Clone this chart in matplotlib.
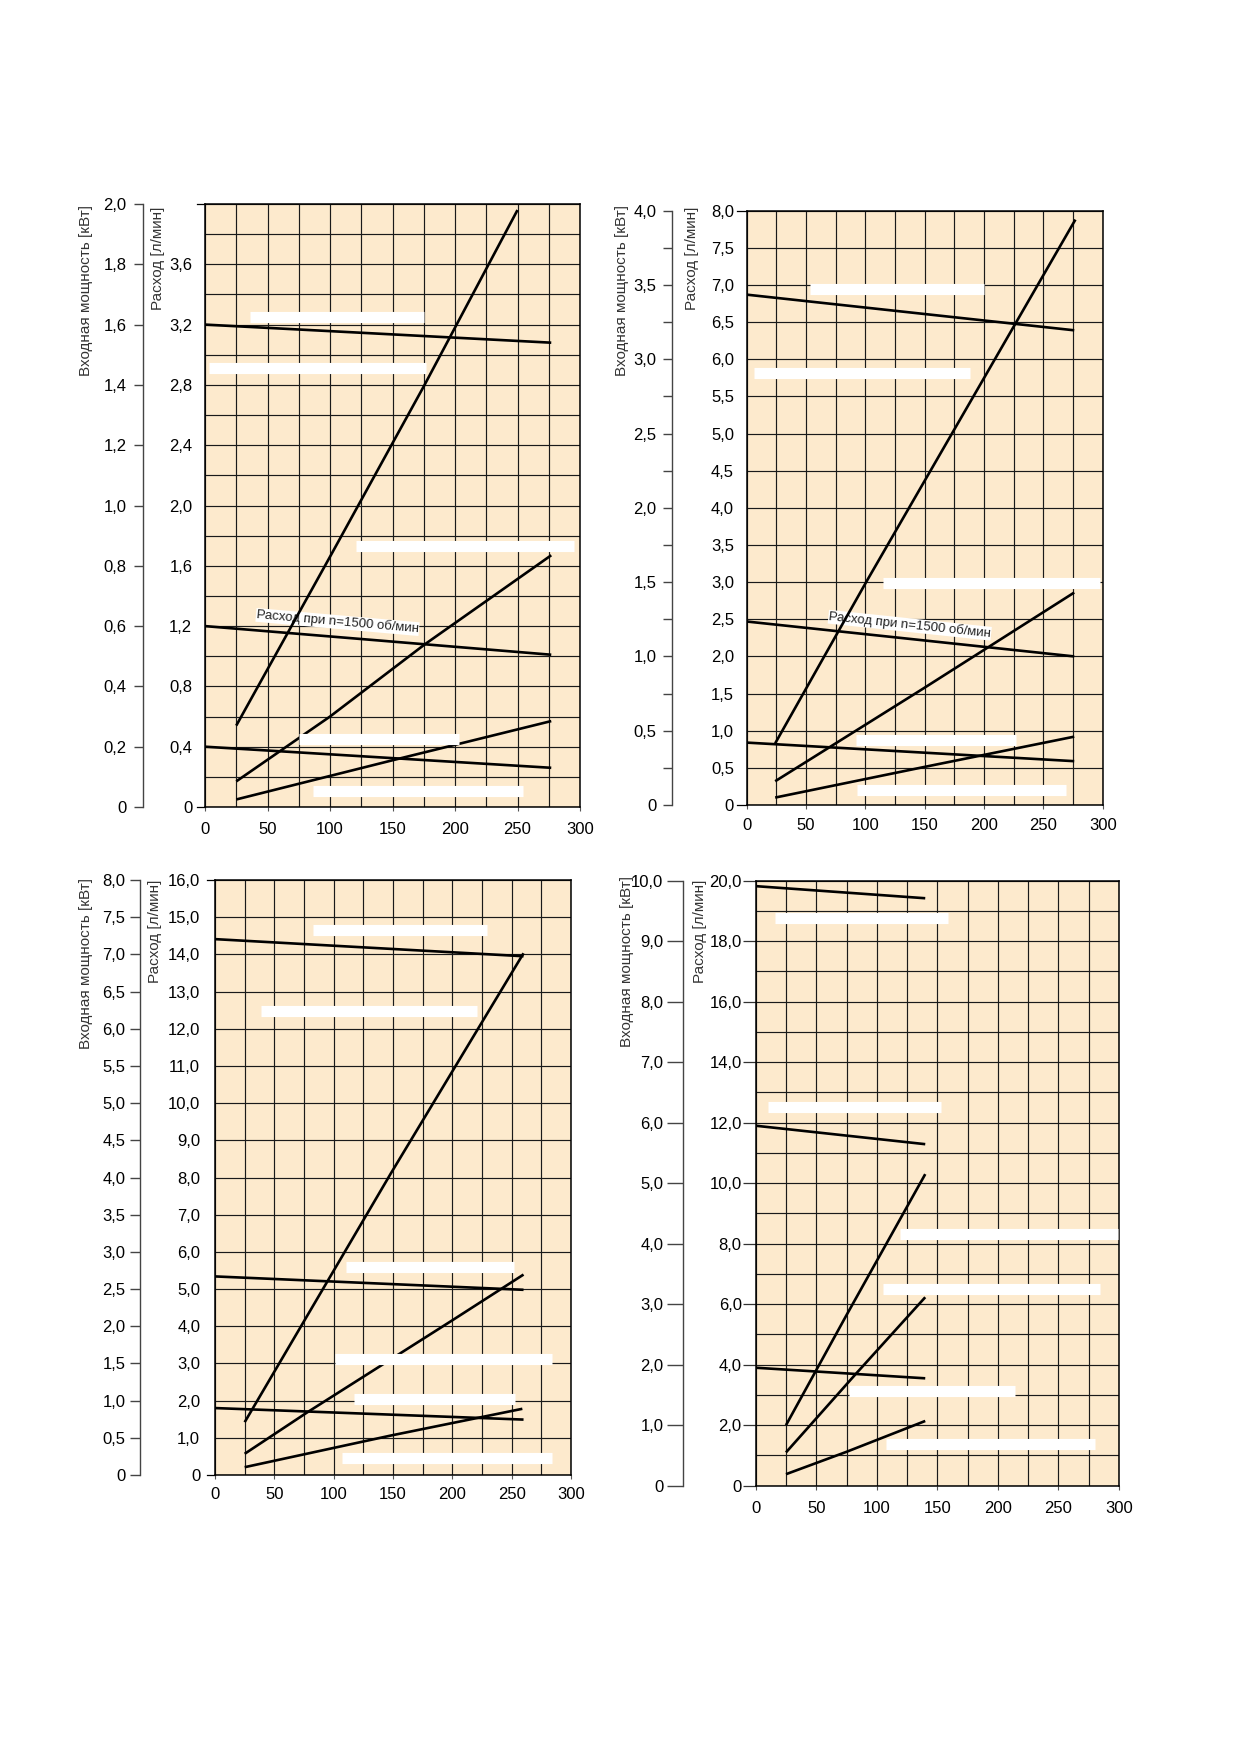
import matplotlib
matplotlib.use('Agg')
import matplotlib.pyplot as plt
import numpy as np

plt.rcParams['font.family'] = ['Liberation Sans', 'DejaVu Sans']

W, H = 1239, 1752
DPI = 100
PT = 72.0 / DPI          # points per pixel

BG = '#FDEACD'
POWER_LABEL = 'Входная мощность [кВт]'
FLOW_LABEL = 'Расход [л/мин]'
NOTE = 'Расход при n=1500 об/мин'

# pressure axis, common to all four charts
pressure_ticks = [0, 50, 100, 150, 200, 250, 300]

# ---- chart 1 (top left): flow l/min, power kW ----
p1_flow_x = [0, 277]
p1_flow_hi = [3.20, 3.08]
p1_flow_mid = [1.20, 1.01]
p1_flow_lo = [0.40, 0.26]
p1_power_hi_x = [25, 100, 175, 250]
p1_power_hi = [0.27, 0.83, 1.395, 1.98]
p1_power_mid_x = [25, 100, 176, 277]
p1_power_mid = [0.085, 0.30, 0.54, 0.835]
p1_power_lo_x = [25, 150, 277]
p1_power_lo = [0.025, 0.155, 0.285]

# ---- chart 2 (top right) ----
p2_flow_x = [0, 276]
p2_flow_hi = [6.87, 6.39]
p2_flow_mid = [2.47, 2.00]
p2_flow_lo = [0.84, 0.59]
p2_power_hi_x = [24, 101, 199, 277]
p2_power_hi = [0.415, 1.505, 2.86, 3.94]
p2_power_mid_x = [24, 149, 276]
p2_power_mid = [0.16, 0.785, 1.43]
p2_power_lo_x = [24, 149, 276]
p2_power_lo = [0.05, 0.255, 0.46]

# ---- chart 3 (bottom left) ----
p3_flow_x = [0, 260]
p3_flow_hi = [14.41, 13.95]
p3_flow_mid = [5.34, 4.98]
p3_flow_lo = [1.80, 1.49]
p3_power_hi_x = [25, 148, 260]
p3_power_hi = [0.71, 4.05, 7.015]
p3_power_mid_x = [25, 78, 200, 260]
p3_power_mid = [0.285, 0.845, 2.08, 2.695]
p3_power_lo_x = [25, 148, 259]
p3_power_lo = [0.105, 0.53, 0.89]

# ---- chart 4 (bottom right) ----
p4_flow_x = [0, 140]
p4_flow_hi = [19.82, 19.42]
p4_flow_mid = [11.90, 11.29]
p4_flow_lo = [3.90, 3.55]
p4_power_hi_x = [25, 75, 140]
p4_power_hi = [1.0, 2.82, 5.15]
p4_power_mid_x = [25, 83, 140]
p4_power_mid = [0.55, 1.855, 3.115]
p4_power_lo_x = [25, 75, 140]
p4_power_lo = [0.19, 0.56, 1.07]

# white blanked-out label strips: (pressure from, pressure to, flow)
p1_masks = [(36, 175, 3.25), (3, 177, 2.915), (121, 295, 1.73), (75, 203, 0.45), (86, 254, 0.104)]
p2_masks = [(53, 200, 6.95), (6, 188, 5.815), (115, 298, 2.99), (92, 227, 0.875), (93, 269, 0.205)]
p3_masks = [(83, 229, 14.65), (39, 221, 12.49), (110, 252, 5.6), (101, 284, 3.11),
            (117, 253, 2.04), (107, 284, 0.46)]
p4_masks = [(16, 159, 18.77), (10, 153, 12.52), (119, 299, 8.33), (105, 284, 6.51),
            (77, 214, 3.13), (108, 280, 1.37)]


def fmt(v):
    v = round(v, 2)
    return '0' if v == 0 else f'{v:.1f}'.replace('.', ',')


panels = [
    dict(rect=(205, 204, 580, 807), fmax=4.0, fgrid=0.2, fticks=np.arange(0, 3.61, 0.4),
         pmax=2.0, pticks=np.arange(0, 2.01, 0.2), pminor=None,
         poff=62.4, plen=8.6, ppad=7.5, flen=0, fpad=12.7, xpad=11.4, corner=7.6,
         labels=((85.8, 205), (158, 207)), note=(106, 1.227, -5),
         flow=(p1_flow_x, [p1_flow_hi, p1_flow_mid, p1_flow_lo]),
         power=[(p1_power_hi_x, p1_power_hi), (p1_power_mid_x, p1_power_mid),
                (p1_power_lo_x, p1_power_lo)],
         masks=p1_masks),
    dict(rect=(746.7, 210.7, 1102.7, 805), fmax=8.0, fgrid=0.5, fticks=np.arange(0, 8.01, 0.5),
         pmax=4.0, pticks=np.arange(0, 4.01, 0.5), pminor=np.arange(0.25, 4.0, 0.5),
         poff=74.4, plen=9, ppad=6.6, flen=0, fpad=12.7, xpad=9, corner=10,
         labels=((621.7, 205), (691.7, 207)), note=(137.4, 2.42, -6),
         flow=(p2_flow_x, [p2_flow_hi, p2_flow_mid, p2_flow_lo]),
         power=[(p2_power_hi_x, p2_power_hi), (p2_power_mid_x, p2_power_mid),
                (p2_power_lo_x, p2_power_lo)],
         masks=p2_masks),
    dict(rect=(215, 880, 571, 1475), fmax=16.0, fgrid=1.0, fticks=np.arange(0, 16.01, 1.0),
         pmax=8.0, pticks=np.arange(0, 8.01, 0.5), pminor=None,
         poff=74.8, plen=9.6, ppad=5.2, flen=0, fpad=14.8, xpad=8.3, corner=8.5,
         labels=((85.8, 878), (154.7, 880)), note=None,
         flow=(p3_flow_x, [p3_flow_hi, p3_flow_mid, p3_flow_lo]),
         power=[(p3_power_hi_x, p3_power_hi), (p3_power_mid_x, p3_power_mid),
                (p3_power_lo_x, p3_power_lo)],
         masks=p3_masks),
    dict(rect=(755.7, 880.7, 1119, 1485.7), fmax=20.0, fgrid=1.0, fticks=np.arange(0, 20.01, 2.0),
         pmax=10.0, pticks=np.arange(0, 10.01, 1.0), pminor=None,
         poff=72.4, plen=16, ppad=4, flen=13, fpad=1, xpad=11, corner=0,
         labels=((626.7, 876), (700, 880)), note=None,
         flow=(p4_flow_x, [p4_flow_hi, p4_flow_mid, p4_flow_lo]),
         power=[(p4_power_hi_x, p4_power_hi), (p4_power_mid_x, p4_power_mid),
                (p4_power_lo_x, p4_power_lo)],
         masks=p4_masks),
]

fig = plt.figure(figsize=(W / DPI, H / DPI), dpi=DPI, facecolor='white')

for p in panels:
    l, t, r, b = p['rect']
    ax = fig.add_axes([l / W, 1 - b / H, (r - l) / W, (b - t) / H])
    ax.set_facecolor(BG)
    ax.set_xlim(0, 300)
    ax.set_ylim(0, p['fmax'])

    # grid
    ax.set_xticks(pressure_ticks)
    ax.set_xticklabels([str(v) for v in pressure_ticks])
    ax.set_xticks(np.arange(0, 301, 25), minor=True)
    ax.set_yticks(p['fticks'])
    ax.set_yticklabels([fmt(v) for v in p['fticks']])
    ax.set_yticks(np.arange(0, p['fmax'] + 1e-9, p['fgrid']), minor=True)
    ax.set_axisbelow(True)
    ax.grid(which='both', color='#1a1a1a', linewidth=0.85)
    ax.tick_params(axis='x', which='major', length=4 * PT, width=0.8, color='#555',
                   pad=p['xpad'] * PT, labelsize=12)
    ax.tick_params(axis='y', which='major', length=p['flen'] * PT, width=0.9,
                   color='#333', pad=p['fpad'] * PT, labelsize=12)
    ax.tick_params(which='minor', length=0)
    for s in ax.spines.values():
        s.set_linewidth(1.1)
        s.set_color('black')

    # short marks at top and bottom of the flow scale
    if p['corner']:
        dx = p['corner'] / (r - l)
        for yy in (0, p['fmax']):
            ax.plot([-dx, 0], [yy, yy], color='black', lw=0.9,
                    transform=ax.get_yaxis_transform(), clip_on=False)

    # curves
    ratio = p['fmax'] / p['pmax']
    fx, fys = p['flow']
    for fy in fys:
        ax.plot(fx, fy, color='black', lw=1.9, zorder=2.5, solid_capstyle='butt')
    for px_, py_ in p['power']:
        ax.plot(px_, np.array(py_) * ratio, color='black', lw=1.9, zorder=2.5,
                solid_capstyle='butt')

    for x0, x1, yy in p['masks']:
        ax.plot([x0, x1], [yy, yy], color='white', lw=8, solid_capstyle='butt', zorder=3)

    if p['note']:
        nx, ny, rot = p['note']
        ax.text(nx, ny, NOTE, rotation=rot, ha='center', va='center', fontsize=9.5,
                color='#222', zorder=2.2,
                bbox=dict(facecolor='white', edgecolor='none', pad=0.3))

    # power scale on a separate line to the left
    pax = ax.twinx()
    pax.set_ylim(0, p['pmax'])
    for side in ('right', 'top', 'bottom'):
        pax.spines[side].set_visible(False)
    pax.spines['left'].set_visible(True)
    pax.spines['left'].set_position(('outward', p['poff'] * PT))
    pax.spines['left'].set_color('#444')
    pax.spines['left'].set_linewidth(1.0)
    pax.yaxis.set_ticks_position('left')
    pax.set_yticks(p['pticks'])
    pax.set_yticklabels([fmt(v) for v in p['pticks']])
    if p['pminor'] is not None:
        pax.set_yticks(p['pminor'], minor=True)
    pax.tick_params(axis='y', which='both', length=p['plen'] * PT, width=1.0,
                    color='#444', pad=p['ppad'] * PT, labelsize=12)

    (lx1, ly1), (lx2, ly2) = p['labels']
    fig.text(lx1 / W, 1 - ly1 / H, POWER_LABEL, rotation=90, ha='center', va='top',
             fontsize=11, color='#333')
    fig.text(lx2 / W, 1 - ly2 / H, FLOW_LABEL, rotation=90, ha='center', va='top',
             fontsize=11, color='#333')

fig.savefig('out.png', dpi=DPI, facecolor='white')
